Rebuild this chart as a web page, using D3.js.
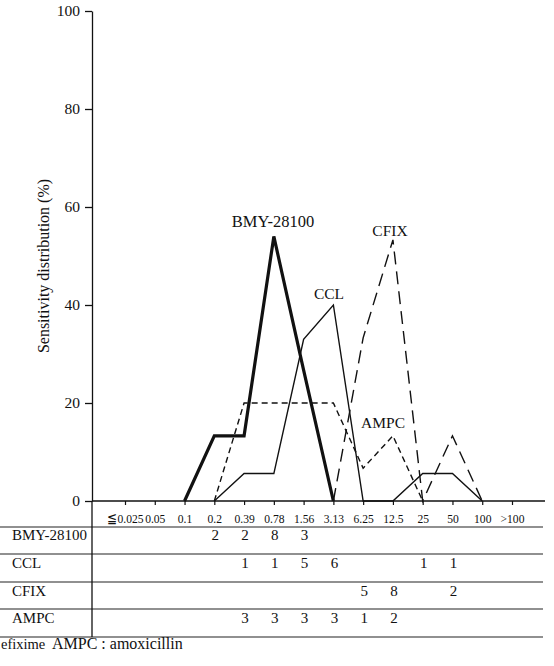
<!DOCTYPE html>
<html>
<head>
<meta charset="utf-8">
<script src="https://cdn.jsdelivr.net/npm/d3@7"></script>
<style>
  html, body { margin: 0; padding: 0; background: #fff; }
  svg { display: block; }
  svg text { font-family: "Liberation Serif", "Times New Roman", "DejaVu Serif", serif; }
</style>
</head>
<body>
<div id="chart"></div>
<script>
// MIC categories (µg/ml) along the x axis
const categories = ['≦0.025', '0.05', '0.1', '0.2', '0.39', '0.78', '1.56', '3.13', '6.25', '12.5', '25', '50', '100', '>100'];
const yTicks = [0, 20, 40, 60, 80, 100];

// sensitivity distribution (%), null = not drawn
const bmyPct  = [null, null, 0, 13.3, 13.3, 54, 26.7, 0, null, null, null, null, null, null];
const cclPct  = [null, null, null, 0, 5.6, 5.6, 33, 40, 0, 0, 5.6, 5.6, 0, null];
const cfixPct = [null, null, null, null, null, null, null, 0, 33.3, 53.3, 0, 13.3, 0, null];
const ampcPct = [null, null, null, 0, 20, 20, 20, 20, 6.7, 13.3, 0, null, null, null];

// strain counts in the table below the plot
const drugs = ['BMY-28100', 'CCL', 'CFIX', 'AMPC'];
const bmyCount  = [null, null, null, 2, 2, 8, 3, null, null, null, null, null, null, null];
const cclCount  = [null, null, null, null, 1, 1, 5, 6, null, null, 1, 1, null, null];
const cfixCount = [null, null, null, null, null, null, null, null, 5, 8, null, 2, null, null];
const ampcCount = [null, null, null, null, 3, 3, 3, 3, 1, 2, null, null, null, null];

const W = 554, H = 666;
const serif = '"Liberation Serif", "Times New Roman", serif';

const svg = d3.select('#chart').append('svg')
  .attr('width', W)
  .attr('height', H)
  .attr('font-family', serif);

const x = d3.scalePoint().domain(categories).range([125, 512]);
const y = d3.scaleLinear().domain([0, 100]).range([501, 11]);

// y axis
const yAxis = svg.append('g')
  .attr('transform', 'translate(92,0)')
  .call(d3.axisLeft(y).tickValues(yTicks).tickSize(7).tickSizeOuter(0).tickPadding(5));
yAxis.attr('font-family', serif);
yAxis.select('.domain').attr('stroke', '#111').attr('stroke-width', 1.3);
yAxis.selectAll('.tick line').attr('stroke', '#111').attr('stroke-width', 1.3);
yAxis.selectAll('.tick text')
  .attr('font-size', 15.5)
  .attr('fill', '#111');

svg.append('text')
  .attr('transform', 'translate(49,266) rotate(-90)')
  .attr('text-anchor', 'middle')
  .attr('font-size', 16)
  .attr('fill', '#111')
  .text('Sensitivity distribution (%)');

// x axis: long base line plus category ticks
svg.append('line')
  .attr('x1', 92).attr('x2', 545)
  .attr('y1', y(0)).attr('y2', y(0))
  .attr('stroke', '#111').attr('stroke-width', 1.3);

const xAxis = svg.append('g')
  .attr('transform', `translate(0,${y(0)})`)
  .call(d3.axisBottom(x).tickSize(4).tickSizeOuter(0).tickPadding(6));
xAxis.attr('font-family', serif);
xAxis.select('.domain').remove();
xAxis.selectAll('.tick line').attr('stroke', '#111').attr('stroke-width', 1.2);
xAxis.selectAll('.tick text')
  .attr('font-size', 13.5)
  .attr('fill', '#111')
  .attr('dy', '0.9em')
  .attr('transform', 'scale(0.86,1)');

// distribution lines
const line = d3.line()
  .defined(d => d.v !== null)
  .x(d => x(d.c))
  .y(d => y(d.v));

const series = [
  { name: 'BMY-28100', values: bmyPct,  width: 3.2, dash: null },
  { name: 'CCL',       values: cclPct,  width: 1.4, dash: null },
  { name: 'CFIX',      values: cfixPct, width: 1.4, dash: '13,7' },
  { name: 'AMPC',      values: ampcPct, width: 1.4, dash: '6,4' }
];

svg.append('g').selectAll('path')
  .data(series)
  .join('path')
  .attr('d', s => line(s.values.map((v, i) => ({ c: categories[i], v }))))
  .attr('fill', 'none')
  .attr('stroke', '#111')
  .attr('stroke-width', s => s.width)
  .attr('stroke-dasharray', s => s.dash)
  .attr('stroke-linejoin', 'miter');

// curve labels
const labels = [
  { text: 'BMY-28100', x: 273, y: 227, size: 16.5 },
  { text: 'CCL',       x: 329, y: 299, size: 15.5 },
  { text: 'CFIX',      x: 390, y: 236, size: 15.5 },
  { text: 'AMPC',      x: 383, y: 428, size: 15.5 }
];
svg.append('g').selectAll('text')
  .data(labels)
  .join('text')
  .attr('x', d => d.x)
  .attr('y', d => d.y)
  .attr('text-anchor', 'middle')
  .attr('font-size', d => d.size)
  .attr('fill', '#111')
  .text(d => d.text);

// table of counts
const rowLines = [527, 554, 582, 609, 637];
const table = svg.append('g');
table.selectAll('line.row')
  .data(rowLines)
  .join('line')
  .attr('class', 'row')
  .attr('x1', 0).attr('x2', 543)
  .attr('y1', d => d).attr('y2', d => d)
  .attr('stroke', '#222').attr('stroke-width', 1.2);
table.append('line')
  .attr('x1', 92).attr('x2', 92)
  .attr('y1', y(0)).attr('y2', 637)
  .attr('stroke', '#111').attr('stroke-width', 1.3);

const counts = [bmyCount, cclCount, cfixCount, ampcCount];
const baselines = [540, 568, 596, 623];

drugs.forEach((name, r) => {
  table.append('text')
    .attr('x', 12)
    .attr('y', baselines[r])
    .attr('font-size', 15)
    .attr('fill', '#111')
    .text(name);
  table.selectAll(null)
    .data(counts[r].map((v, i) => ({ c: categories[i], v })).filter(d => d.v !== null))
    .join('text')
    .attr('x', d => x(d.c) + 1)
    .attr('y', baselines[r])
    .attr('text-anchor', 'middle')
    .attr('font-size', 15)
    .attr('fill', '#111')
    .text(d => d.v);
});

// footnote (its left part is cut off in the source)
svg.append('text')
  .attr('x', 1)
  .attr('y', 649)
  .attr('font-size', 14.5)
  .attr('fill', '#111')
  .text('efixime');
svg.append('text')
  .attr('x', 52)
  .attr('y', 649)
  .attr('font-size', 16)
  .attr('fill', '#111')
  .text('AMPC : amoxicillin');
</script>
</body>
</html>
